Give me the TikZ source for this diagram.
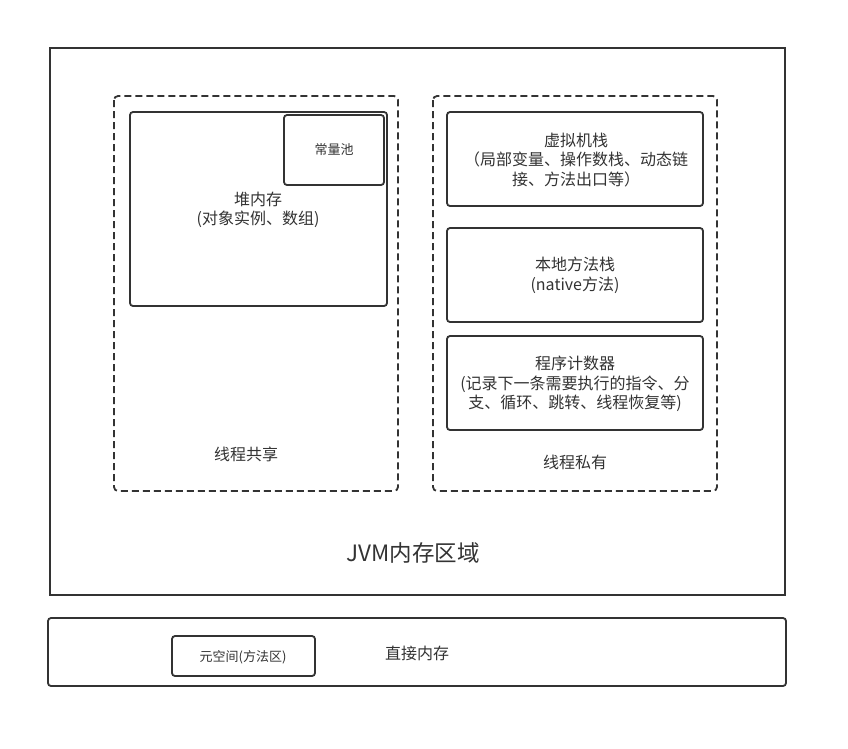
\documentclass[tikz,border=0pt]{standalone}
\usepackage{fontspec}
\setmainfont{Noto Sans CJK SC}
\definecolor{ln}{HTML}{333333}
\begin{document}
\begin{tikzpicture}[x=1pt,y=-1pt,
  box/.style={draw=ln,line width=1.8pt,rounded corners=3pt},
  dbox/.style={draw=ln,line width=1.8pt,rounded corners=4pt,dash pattern=on 7pt off 4pt},
  txt/.style={text=ln,font=\fontsize{16}{19.5}\selectfont,align=center,inner sep=0pt},
  stxt/.style={text=ln,font=\fontsize{13}{15}\selectfont,align=center,inner sep=0pt}]
\useasboundingbox[fill=white] (0,0) rectangle (848,748);
\draw[draw=ln,line width=1.8pt] (50,48) rectangle (785,595);
\node[txt,font=\fontsize{22.5}{26}\selectfont] (jvm) at (413,553) {JVM内存区域};
% left
\draw[dbox] (114,96) rectangle (398,491);
\draw[box] (130,112) rectangle (387,306);
\node[txt] (heap) at (258,210) {堆内存\\(对象实例、数组)};
\draw[box,fill=white] (284,115) rectangle (384,185);
\node[stxt] (pool) at (334,150) {常量池};
\node[txt] (share) at (246,454) {线程共享};
% right
\draw[dbox] (433,96) rectangle (717,491);
\draw[box] (447,112) rectangle (703,206);
\node[txt] (vms) at (576,160) {虚拟机栈\\（局部变量、操作数栈、动态链\\接、方法出口等）};
\draw[box] (447,228) rectangle (703,322);
\node[txt] (nms) at (575,275.5) {本地方法栈\\(native方法)};
\draw[box] (447,336) rectangle (703,430);
\node[txt] (pc) at (575,384) {程序计数器\\(记录下一条需要执行的指令、分\\支、循环、跳转、线程恢复等)};
\node[txt] (priv) at (575,462) {线程私有};
% bottom
\draw[box] (48,618) rectangle (786,686);
\draw[box] (172,636) rectangle (315,676);
\node[stxt] (meta) at (243,657) {元空间(方法区)};
\node[txt] (direct) at (417,653) {直接内存};
\end{tikzpicture}
\end{document}
